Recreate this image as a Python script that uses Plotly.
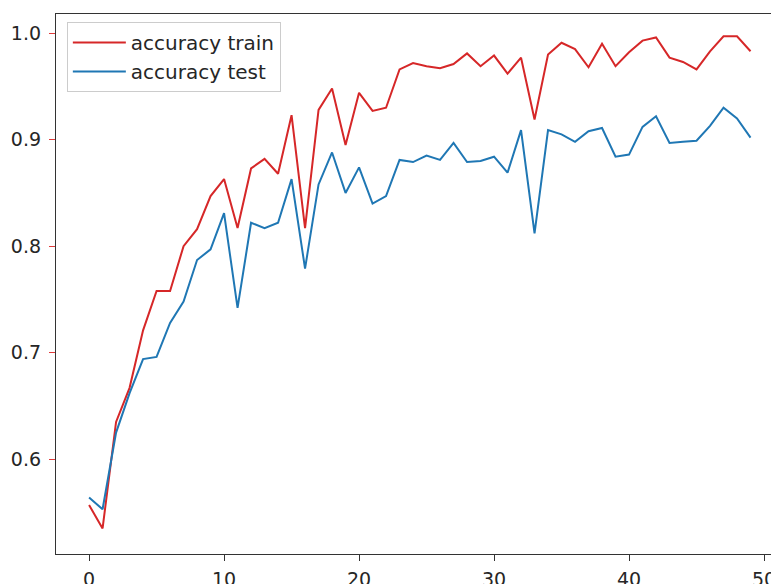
import plotly.graph_objects as go

epochs = list(range(50))
acc_train = [0.557, 0.535, 0.635, 0.667, 0.721, 0.758, 0.758, 0.800, 0.816, 0.847,
             0.863, 0.817, 0.873, 0.882, 0.868, 0.923, 0.817, 0.928, 0.948, 0.895,
             0.944, 0.927, 0.930, 0.966, 0.972, 0.969, 0.967, 0.971, 0.981, 0.969,
             0.979, 0.962, 0.977, 0.919, 0.980, 0.991, 0.985, 0.968, 0.990, 0.969,
             0.982, 0.993, 0.996, 0.977, 0.973, 0.966, 0.983, 0.997, 0.997, 0.983]
acc_test = [0.564, 0.553, 0.625, 0.662, 0.694, 0.696, 0.728, 0.748, 0.787, 0.797,
            0.831, 0.742, 0.822, 0.817, 0.822, 0.863, 0.779, 0.858, 0.888, 0.850,
            0.874, 0.840, 0.847, 0.881, 0.879, 0.885, 0.881, 0.897, 0.879, 0.880,
            0.884, 0.869, 0.909, 0.812, 0.909, 0.905, 0.898, 0.908, 0.911, 0.884,
            0.886, 0.912, 0.922, 0.897, 0.898, 0.899, 0.913, 0.930, 0.920, 0.902]
x_ticks = [0, 10, 20, 30, 40, 50]
y_ticks = [0.6, 0.7, 0.8, 0.9, 1.0]

fig = go.Figure()
fig.add_trace(go.Scatter(x=epochs, y=acc_train, mode="lines", name="accuracy train",
                         line=dict(color="#d62728", width=2)))
fig.add_trace(go.Scatter(x=epochs, y=acc_test, mode="lines", name="accuracy test",
                         line=dict(color="#1f77b4", width=2)))

tfont = dict(family="DejaVu Sans", size=19, color="#262626")

# page body has an 8px margin, so the figure is offset by (8, 8)
fig.update_layout(
    width=771, height=576,
    margin=dict(l=48, r=0, t=6, b=30),
    paper_bgcolor="white", plot_bgcolor="white",
    font=dict(family="DejaVu Sans", size=19, color="#262626"),
    xaxis=dict(range=[-2.45, 51.11], tickvals=x_ticks, mirror=True, automargin=False,
               showgrid=False, zeroline=False, showline=True, linecolor="#333333", linewidth=1.3,
               ticks="outside", ticklen=6, tickwidth=1.3, tickcolor="#333333",
               tickfont=tfont, ticklabelstandoff=2),
    yaxis=dict(range=[0.511, 1.018], tickvals=y_ticks, tickformat=".1f", automargin=False,
               showgrid=False, zeroline=False, showline=True, linecolor="#333333", linewidth=1.3,
               ticks="outside", ticklen=6, tickwidth=1.3, tickcolor="#e03a3a",
               tickfont=tfont, ticklabelstandoff=4),
    legend=dict(x=0.015, y=0.985, xanchor="left", yanchor="top", bgcolor="rgba(255,255,255,0.8)",
                bordercolor="#cccccc", borderwidth=1,
                font=dict(family="DejaVu Sans", size=20, color="#262626"),
                tracegroupgap=0, itemwidth=53),
    showlegend=True,
)

fig.write_html("out.html")
